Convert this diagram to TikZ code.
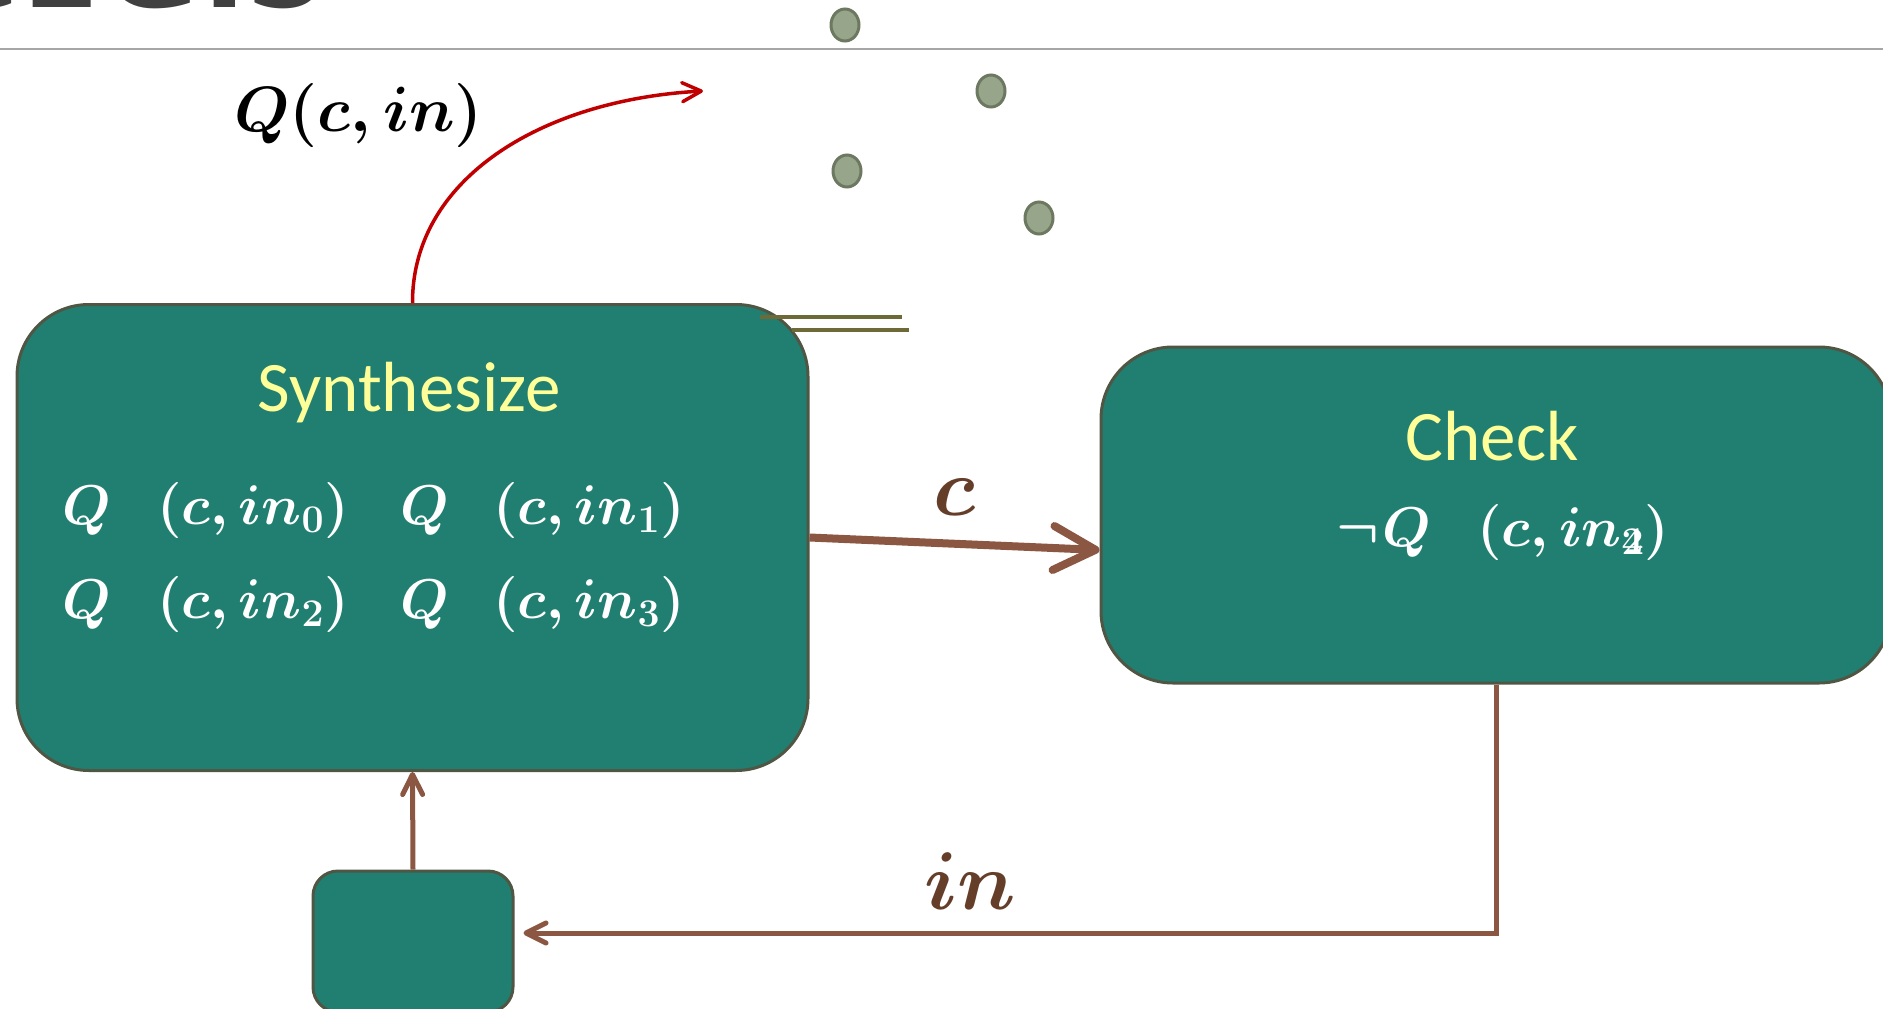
\RequirePackage{fix-cm}
\documentclass[tikz,border=0pt]{standalone}
\usepackage{amsmath,mathtools}
\usepackage{fontspec}
\newfontfamily\calibfont{Carlito}
\newfontfamily\titlefont{Open Sans}
\usetikzlibrary{arrows.meta}
\definecolor{boxfill}{RGB}{33,127,113}
\definecolor{boxline}{RGB}{80,86,68}
\definecolor{paleyellow}{RGB}{255,255,153}
\definecolor{arrowbrown}{RGB}{139,87,66}
\definecolor{labelbrown}{RGB}{101,62,42}
\definecolor{arrowred}{RGB}{192,0,0}
\definecolor{oliveline}{RGB}{110,106,55}
\definecolor{dotfill}{RGB}{151,165,138}
\definecolor{dotline}{RGB}{108,120,96}
\definecolor{rulegray}{RGB}{166,166,166}
\definecolor{titlegray}{RGB}{64,64,64}
\tikzset{
  procbox/.style={draw=boxline, fill=boxfill, line width=3pt, inner sep=0pt},
  boxtitle/.style={text=paleyellow, font=\calibfont\fontsize{71}{80}\selectfont, inner sep=0pt, anchor=base},
  mathitem/.style={text=white, font=\fontsize{56}{60}\selectfont, inner sep=0pt, anchor=base west},
  edgelabel/.style={text=labelbrown, font=\fontsize{82}{90}\selectfont, inner sep=0pt, anchor=base},
  thickarrow/.style={draw=arrowbrown, line width=8pt, -{Straight Barb[length=42pt, width=44pt, round]}},
  thinarrow/.style={draw=arrowbrown, line width=5pt, -{Straight Barb[length=20pt, width=20pt, round]}},
  redarrow/.style={draw=arrowred, line width=3.5pt, -{Straight Barb[length=19pt, width=19pt, round]}},
  dotshape/.style={fill=dotfill, draw=dotline, line width=3pt},
  olivestroke/.style={draw=oliveline, line width=4pt},
}
\begin{document}
\begin{tikzpicture}[x=1pt,y=-1pt]
\useasboundingbox (0,0) rectangle (1883,1009);
\begin{scope}
\clip (0,0) rectangle (1883,1009);
% title fragment and rule
\node[anchor=base east, inner sep=0pt, text=titlegray, font=\titlefont\bfseries\fontsize{141}{150}\selectfont] (title) at (326,8) {CEGIS};
\draw[rulegray, line width=2pt] (0,49) -- (1883,49);
% dots
\draw[dotshape] (845,25) ellipse [x radius=14pt, y radius=16pt];
\draw[dotshape] (991,91) ellipse [x radius=14pt, y radius=16pt];
\draw[dotshape] (847,171) ellipse [x radius=14pt, y radius=16pt];
\draw[dotshape] (1039,218) ellipse [x radius=14pt, y radius=16pt];
% boxes
\node[procbox, rounded corners=72pt, minimum width=791pt, minimum height=466pt] (synth) at (412.5,537.5) {};
\node[procbox, rounded corners=72pt, minimum width=790pt, minimum height=336pt] (check) at (1496,515) {};
\node[procbox, rounded corners=25pt, minimum width=200pt, minimum height=141pt] (small) at (413,941.5) {};
% olive double line
\draw[olivestroke] (760,317) -- (902,317);
\draw[olivestroke] (792,330) -- (909,330);
% red output arrow
\coordinate (qend) at (703,91);
\draw[redarrow] (synth.north) .. controls (412,180) and (540,100) .. (qend);
\node[anchor=base west, inner sep=0pt, font=\fontsize{64}{70}\selectfont] (qlabel) at (234,131) {$\boldsymbol{Q(c,in)}$};
% box texts
\node[boxtitle] (synthtitle) at (409,411) {Synthesize};
\node[boxtitle] (checktitle) at (1492,460) {Check};
\node[mathitem] (qa) at (62,524) {$\boldsymbol{Q}$};
\node[mathitem] (pa) at (157,524) {$\boldsymbol{(c,in_0)}$};
\node[mathitem] (qb) at (400,524) {$\boldsymbol{Q}$};
\node[mathitem] (pb) at (493,524) {$\boldsymbol{(c,in_1)}$};
\node[mathitem] (qc) at (62,618) {$\boldsymbol{Q}$};
\node[mathitem] (pc) at (157,618) {$\boldsymbol{(c,in_2)}$};
\node[mathitem] (qd) at (400,618) {$\boldsymbol{Q}$};
\node[mathitem] (pd) at (493,618) {$\boldsymbol{(c,in_3)}$};
\node[mathitem] (negq) at (1336,546) {$\boldsymbol{\neg}$};
\node[mathitem] (qe) at (1382,546) {$\boldsymbol{Q}$};
\node[mathitem] (pe) at (1477,546) {$\boldsymbol{(c,in_{\mathrlap{2}4})}$};
% connectors
\draw[thickarrow] (synth.east) -- (check.west |- 0,550);
\node[edgelabel] (clabel) at (955,515) {$\boldsymbol{c}$};
\draw[thinarrow, shorten >=9pt] (check.south) |- (small.east |- 0,933);
\node[edgelabel] (inlabel) at (970,909) {$\boldsymbol{in}$};
\draw[thinarrow] (small.north) -- (synth.south);
\end{scope}
\end{tikzpicture}
\end{document}
